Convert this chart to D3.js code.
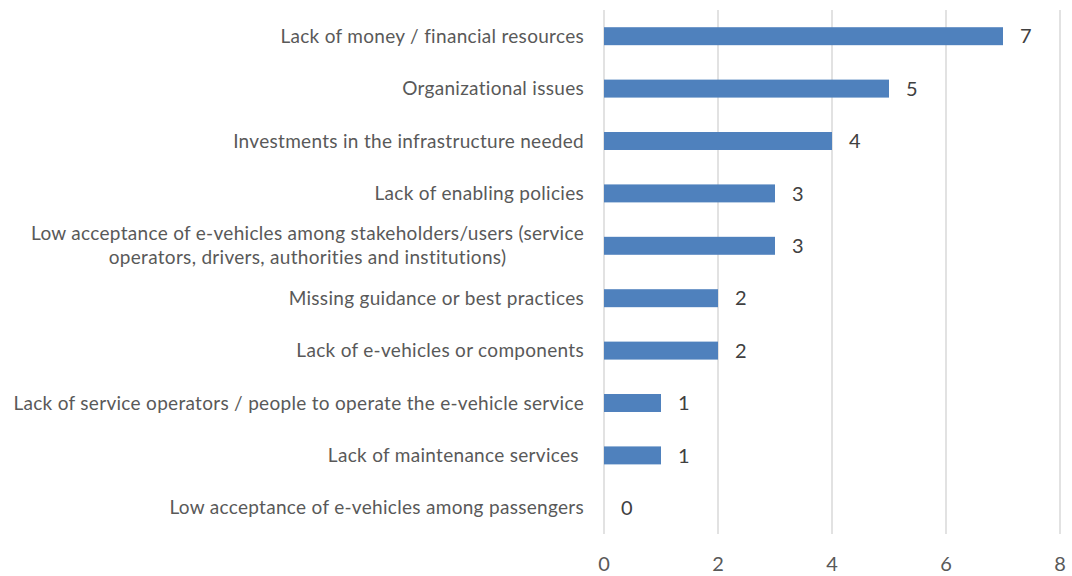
<!DOCTYPE html>
<html>
<head>
<meta charset="utf-8">
<script src="https://cdn.jsdelivr.net/npm/d3@7"></script>
<style>
  body { margin: 0; background: #fff; }
  svg { font-family: Lato, "Open Sans", sans-serif; }
</style>
</head>
<body>
<div id="chart"></div>
<script>
const categories = [
  "Lack of money / financial resources",
  "Organizational issues",
  "Investments in the infrastructure needed",
  "Lack of enabling policies",
  "Low acceptance of e-vehicles among stakeholders/users (service|operators, drivers, authorities and institutions)",
  "Missing guidance or best practices",
  "Lack of e-vehicles or components",
  "Lack of service operators / people to operate the e-vehicle service",
  "Lack of maintenance services ",
  "Low acceptance of e-vehicles among passengers"
];
const values = [7, 5, 4, 3, 3, 2, 2, 1, 1, 0];
const xTicks = [0, 2, 4, 6, 8];

const width = 1072, height = 576;
const margin = { top: 10, right: 12, bottom: 42, left: 604 };

const svg = d3.select("#chart").append("svg")
  .attr("width", width)
  .attr("height", height);

const x = d3.scaleLinear().domain([0, 8]).range([margin.left, width - margin.right]);
const y = d3.scaleBand().domain(categories)
  .range([margin.top, height - margin.bottom])
  .paddingInner(0.657)
  .paddingOuter(0.3285);

// gridlines
svg.append("g")
  .selectAll("line")
  .data(xTicks)
  .join("line")
  .attr("x1", d => x(d)).attr("x2", d => x(d))
  .attr("y1", margin.top).attr("y2", height - margin.bottom)
  .attr("stroke", "#d9d9d9")
  .attr("stroke-width", 1.5);

// tick labels
svg.append("g")
  .selectAll("text")
  .data(xTicks)
  .join("text")
  .attr("x", d => x(d))
  .attr("y", 571)
  .attr("text-anchor", "middle")
  .attr("fill", "#595959")
  .style("font-size", "20px")
  .text(d => d);

// bars
svg.append("g")
  .selectAll("rect")
  .data(values)
  .join("rect")
  .attr("x", x(0))
  .attr("y", (d, i) => y(categories[i]))
  .attr("width", d => x(d) - x(0))
  .attr("height", y.bandwidth())
  .attr("fill", "#4f81bd");

// value labels
svg.append("g")
  .selectAll("text")
  .data(values)
  .join("text")
  .attr("x", d => x(d) + 17)
  .attr("y", (d, i) => y(categories[i]) + y.bandwidth() / 2)
  .attr("dy", "0.36em")
  .attr("fill", "#404040")
  .style("font-size", "20px")
  .text(d => d);

// category labels
const lineH = 24;
const labels = svg.append("g")
  .selectAll("text")
  .data(categories)
  .join("text")
  .attr("text-anchor", "middle")
  .attr("fill", "#595959")
  .style("font-size", "19px")
  .style("letter-spacing", "0.3px")
  .style("white-space", "pre")
  .each(function (d) {
    const lines = d.split("|");
    const cy = y(d) + y.bandwidth() / 2;
    const t = d3.select(this);
    lines.forEach((ln, j) => {
      t.append("tspan")
        .attr("x", 0)
        .attr("y", cy + (j - (lines.length - 1) / 2) * lineH)
        .attr("dy", "0.35em")
        .text(ln);
    });
  });

// right align the label block at x=584, multi-line ones centred within it
labels.each(function () {
  const w = this.getBBox().width;
  d3.select(this).selectAll("tspan").attr("x", 584 - w / 2);
});
</script>
</body>
</html>
